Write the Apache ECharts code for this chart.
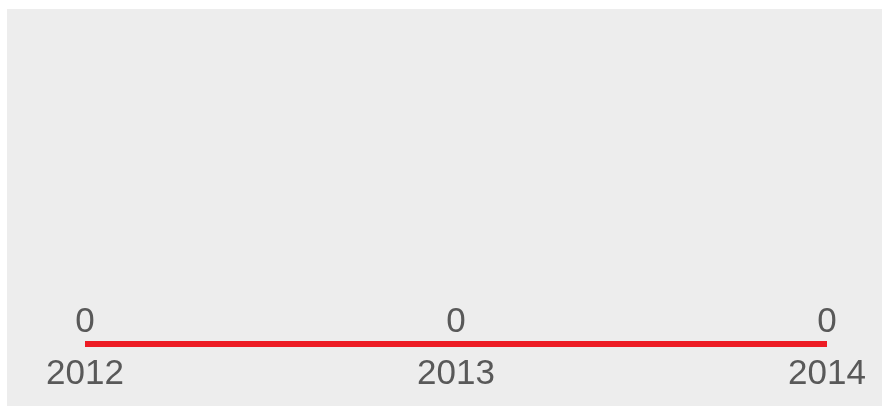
<!DOCTYPE html>
<html><head><meta charset="utf-8">
<script src="https://cdn.jsdelivr.net/npm/echarts@6/dist/echarts.min.js"></script>
<style>html,body{margin:0;padding:0;background:#fff;}#c{width:889px;height:412px;}</style>
</head><body><div id="c"></div>
<script>
var categories = ['2012', '2013', '2014'];
var values = [0, 0, 0];
var chart = echarts.init(document.getElementById('c'));
chart.setOption({
  animation: false,
  backgroundColor: '#ffffff',
  graphic: [{
    type: 'rect', z: -10, silent: true,
    shape: { x: 7, y: 9, width: 875, height: 397 },
    style: { fill: '#ededed' }
  }],
  grid: { left: 85, right: 62, top: 40, bottom: 68 },
  xAxis: {
    type: 'category', data: categories, boundaryGap: false,
    axisLine: { show: false }, axisTick: { show: false }, splitLine: { show: false },
    axisLabel: { color: '#595959', fontSize: 35, fontFamily: 'Liberation Sans, Arial, sans-serif', margin: 13 }
  },
  yAxis: { type: 'value', min: 0, max: 1, show: false },
  series: [{
    type: 'line', data: values, symbol: 'circle', symbolSize: 0, showSymbol: true,
    itemStyle: { color: '#ed1c24' },
    lineStyle: { color: '#ed1c24', width: 6, cap: 'butt' },
    label: { show: true, position: 'top', distance: 4, color: '#595959', fontSize: 35, fontFamily: 'Liberation Sans, Arial, sans-serif' }
  }]
});
</script></body></html>
